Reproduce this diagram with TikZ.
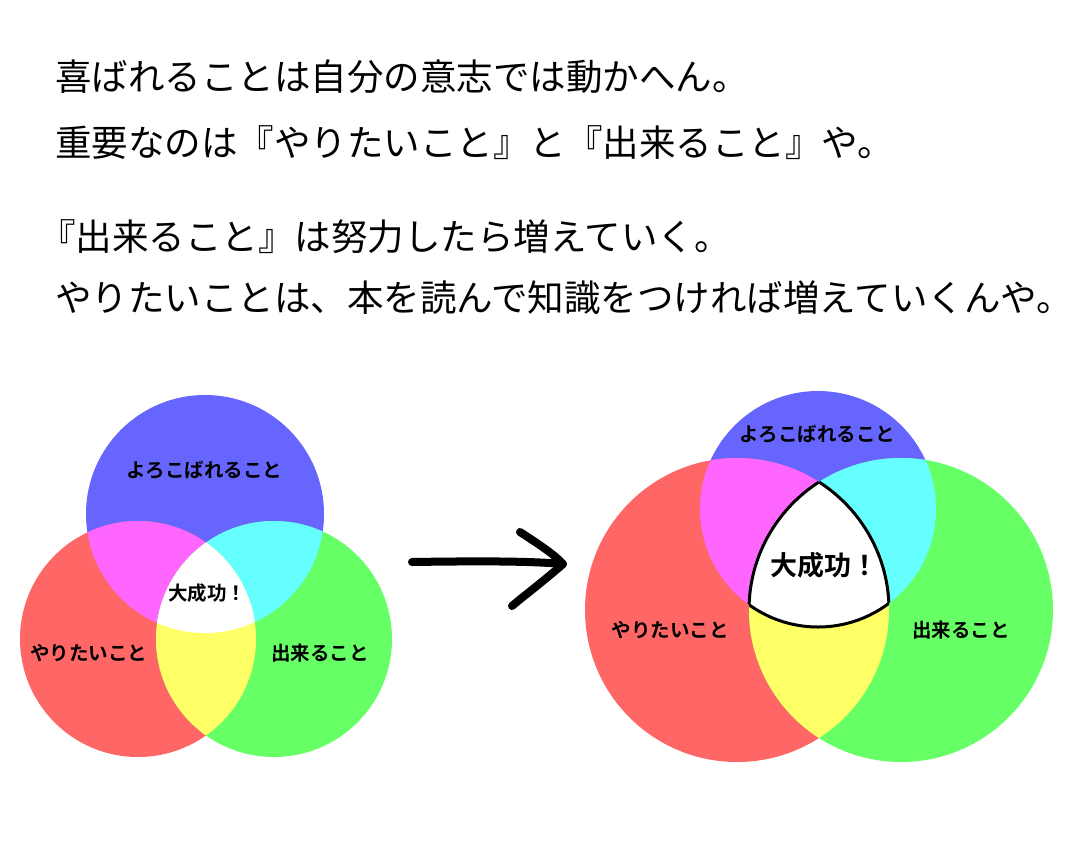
\documentclass[tikz,border=0pt]{standalone}
\usepackage{fontspec}
\newfontfamily\jp{Noto Sans CJK JP}
\newfontfamily\jpb{Noto Sans CJK JP Bold}
\definecolor{cblue}{HTML}{6666FF}
\definecolor{cred}{HTML}{FF6666}
\definecolor{cgreen}{HTML}{66FF66}
\definecolor{cmag}{HTML}{FF66FF}
\definecolor{ccyan}{HTML}{66FFFF}
\definecolor{cyel}{HTML}{FFFF66}
\tikzset{
  headline/.style={anchor=west, inner sep=0pt, font=\jp\fontsize{36.5}{36.5}\selectfont},
  lab/.style={inner sep=0pt, font=\jpb\fontsize{19.5}{19.5}\selectfont},
  biglab/.style={inner sep=0pt, font=\jpb\fontsize{27}{27}\selectfont},
  arrowline/.style={line width=8pt, line cap=round, line join=round}
}
\newcommand{\venn}[6]{%
  \fill[cblue] #1 circle[radius=#2];
  \fill[cred] #3 circle[radius=#5];
  \fill[cgreen] #4 circle[radius=#5];
  \begin{scope}\clip #3 circle[radius=#5]; \fill[cmag] #1 circle[radius=#2];\end{scope}
  \begin{scope}\clip #1 circle[radius=#2]; \fill[ccyan] #4 circle[radius=#5];\end{scope}
  \begin{scope}\clip #3 circle[radius=#5]; \fill[cyel] #4 circle[radius=#5];\end{scope}
  \begin{scope}\clip #3 circle[radius=#5]; \clip #1 circle[radius=#2]; \fill[white] #4 circle[radius=#5];\end{scope}
  \ifnum#6=1
  \begin{scope}\clip #3 circle[radius=#5]; \clip #1 circle[radius=#2]; \draw[line width=3pt] #4 circle[radius=#5];\end{scope}
  \begin{scope}\clip #3 circle[radius=#5]; \clip #4 circle[radius=#5]; \draw[line width=3pt] #1 circle[radius=#2];\end{scope}
  \begin{scope}\clip #1 circle[radius=#2]; \clip #4 circle[radius=#5]; \draw[line width=3pt] #3 circle[radius=#5];\end{scope}
  \fi
}
\begin{document}
\begin{tikzpicture}[x=1pt,y=-1pt]
\useasboundingbox (0,0) rectangle (1074,860);
\fill[white] (0,0) rectangle (1074,860);

\node[headline] (l1) at (55,77) {喜ばれることは自分の意志では動かへん。};
\node[headline] (l2) at (55,143) {重要なのは『やりたいこと』と『出来ること』や。};
\node[headline] (l3) at (39,237) {『出来ること』は努力したら増えていく。};
\node[headline] (l4) at (55,298) {やりたいことは、本を読んで知識をつければ増えていくんや。};

% left diagram
\venn{(205,514)}{119}{(138,639)}{(274,639)}{118}{0}
\node[lab] (lb) at (204,470) {よろこばれること};
\node[lab] (lw) at (207,593) {大成功！};
\node[lab] (lr) at (89,653) {やりたいこと};
\node[lab] (lg) at (320,653) {出来ること};

% arrow
\coordinate (as) at (412,562);
\coordinate (at) at (563,564);
\coordinate (au) at (520,532);
\coordinate (ad) at (512,606);
\draw[arrowline] (as) .. controls (480,561) and (530,561) .. (at);
\draw[arrowline] (au) .. controls (540,545) and (555,555) .. (at) .. controls (545,580) and (525,595) .. (ad);

% right diagram
\venn{(818,509)}{118}{(737,610)}{(901,610)}{152}{1}
\node[lab] (rb) at (817,434) {よろこばれること};
\node[biglab] (rw) at (824,565) {大成功！};
\node[lab] (rr) at (670,630) {やりたいこと};
\node[lab] (rg) at (961,630) {出来ること};
\end{tikzpicture}
\end{document}
